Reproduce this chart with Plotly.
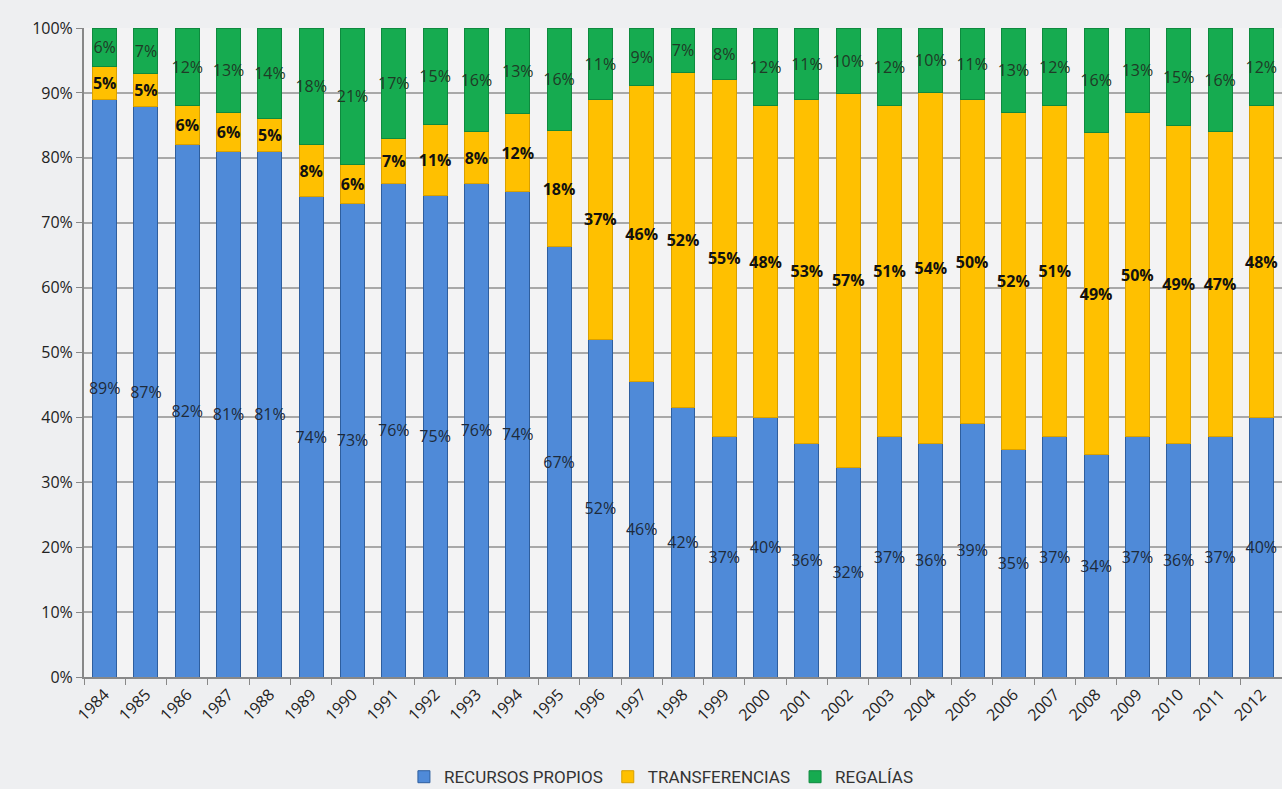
import plotly.graph_objects as go

years = [str(y) for y in range(1984, 2013)]
recursos_propios = [89, 87, 82, 81, 81, 74, 73, 76, 75, 76, 74, 67, 52, 46, 42, 37, 40, 36, 32, 37, 36, 39, 35, 37, 34, 37, 36, 37, 40]
transferencias = [5, 5, 6, 6, 5, 8, 6, 7, 11, 8, 12, 18, 37, 46, 52, 55, 48, 53, 57, 51, 54, 50, 52, 51, 49, 50, 49, 47, 48]
regalias = [6, 7, 12, 13, 14, 18, 21, 17, 15, 16, 13, 16, 11, 9, 7, 8, 12, 11, 10, 12, 10, 11, 13, 12, 16, 13, 15, 16, 12]
y_ticks = [0, 10, 20, 30, 40, 50, 60, 70, 80, 90, 100]

series = [
    ("RECURSOS PROPIOS", recursos_propios, "#4F8AD8", "#2E5E9E", dict(color="#1E2A3A", size=16, family="Open Sans")),
    ("TRANSFERENCIAS", transferencias, "#FFC000", "#D9A000", dict(color="#111111", size=16, family="Open Sans", weight="bold")),
    ("REGALÍAS", regalias, "#16AB50", "#0E8A3E", dict(color="#1F3A26", size=16, family="Open Sans")),
]

fig = go.Figure()
for name, vals, col, edge, tf in series:
    fig.add_trace(go.Bar(
        name=name, x=years, y=vals,
        marker=dict(color=col, line=dict(color=edge, width=1)),
        text=[f"{v}%" for v in vals],
        textposition="inside", insidetextanchor="middle",
        textangle=0, constraintext="none",
        textfont=tf,
        hoverinfo="skip",
    ))

fig.update_layout(
    barmode="stack", barnorm="percent", bargap=0.42,
    width=1282, height=789,
    paper_bgcolor="#EEEFF1", plot_bgcolor="#F3F3F4",
    margin=dict(l=84, r=0, t=28, b=112),
    font=dict(family="Open Sans", color="#222222"),
    legend=dict(orientation="h", x=0.482, xanchor="center",
                yref="container", y=0.015, yanchor="middle",
                font=dict(family="Roboto", size=17, color="#333333"),
                traceorder="normal", itemwidth=30, bgcolor="rgba(0,0,0,0)"),
    xaxis=dict(range=[-0.5, 28.5], tickangle=-45, tickfont=dict(size=16, color="#222222"),
               ticks="outside", tickson="boundaries", ticklen=6, tickcolor="#888888",
               showline=True, linecolor="#888888", linewidth=2, showgrid=False,
               automargin=False),
    yaxis=dict(range=[0, 100], tickvals=y_ticks, ticktext=[f"{v}%" for v in y_ticks],
               tickfont=dict(size=16, color="#222222"),
               ticks="outside", ticklen=6, tickcolor="#888888",
               showline=True, linecolor="#888888", linewidth=2,
               showgrid=True, gridcolor="#A8A8A8", gridwidth=1.5, zeroline=False,
               automargin=False),
)

fig.write_html("out.html", config={"displayModeBar": False},
               post_script="document.body.style.margin='0px';document.body.style.overflow='hidden';")
